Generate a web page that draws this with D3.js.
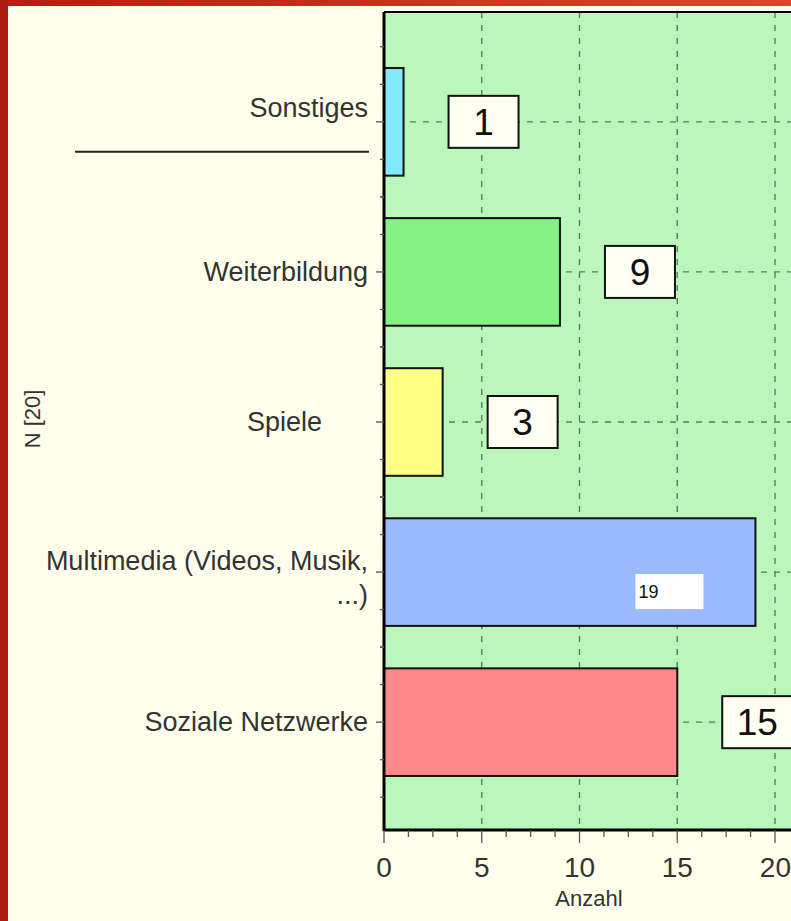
<!DOCTYPE html>
<html>
<head>
<meta charset="utf-8">
<script src="https://cdn.jsdelivr.net/npm/d3@7"></script>
<style>
html,body{margin:0;padding:0;background:#fffeec;overflow:hidden}
</style>
</head>
<body>
<div id="chart"></div>
<script>
const width = 791
const height = 921

const categories = ["Sonstiges","Weiterbildung","Spiele","Multimedia (Videos, Musik,","Soziale Netzwerke"]
const values = [1,9,3,19,15]
const colors = ["#80e9fa","#84f284","#ffff86","#9cbaff","#ff8888"]
const xTicks = [0,5,10,15,20,25]

const svg = d3.select("#chart")
.append("svg")
.attr("width",width)
.attr("height",height)
.style("font-family","'Liberation Sans', Arial, sans-serif")

const defs = svg.append("defs")
const grad = defs.append("linearGradient").attr("id","topred")
grad.append("stop").attr("offset","0%").attr("stop-color","#b41e10")
grad.append("stop").attr("offset","100%").attr("stop-color","#e4422a")

// frame
svg.append("rect").attr("width",width).attr("height",height).attr("fill","#fffeec")
svg.append("rect").attr("width",width).attr("height",6).attr("fill","url(#topred)")
svg.append("rect").attr("width",8).attr("height",height).attr("fill","#ad1d0f")

const plotTop = 12
const plotBottom = 830
const x = d3.scaleLinear().domain([0,25]).range([384,384+25*19.55])
const y = d3.scaleBand().domain(categories).range([14,830]).paddingInner(0.283).paddingOuter(0.36)
const cy = d => y(d)+y.bandwidth()/2

// plot background
svg.append("rect")
.attr("x",x(0)).attr("y",plotTop)
.attr("width",900-x(0)).attr("height",plotBottom-plotTop)
.attr("fill","#bbf7bb")

// grid
svg.selectAll(".vgrid").data(xTicks.slice(1)).enter().append("line")
.attr("x1",d=>x(d)).attr("x2",d=>x(d))
.attr("y1",plotTop).attr("y2",plotBottom)
.attr("stroke","#56805a").attr("stroke-width",1.4).attr("stroke-dasharray","6,7")

svg.selectAll(".hgrid").data(categories).enter().append("line")
.attr("x1",x(0)).attr("x2",900)
.attr("y1",d=>cy(d)).attr("y2",d=>cy(d))
.attr("stroke","#56805a").attr("stroke-width",1.4).attr("stroke-dasharray","6,7")

// bars
svg.selectAll(".bar").data(categories).enter().append("rect")
.attr("x",x(0))
.attr("y",d=>y(d))
.attr("width",(d,i)=>x(values[i])-x(0))
.attr("height",y.bandwidth())
.attr("fill",(d,i)=>colors[i])
.attr("stroke","#111").attr("stroke-width",2)

// value labels
categories.forEach((c,i)=>{
  const v = values[i]
  if(v>=19){
    svg.append("rect").attr("x",x(v)-120).attr("y",cy(c)+2).attr("width",68).attr("height",35).attr("fill","#fff")
    svg.append("text").attr("x",x(v)-117).attr("y",cy(c)+26).attr("font-size",18).attr("fill","#111").text(v)
  } else {
    svg.append("rect").attr("x",x(v)+45).attr("y",cy(c)-26).attr("width",70).attr("height",52)
    .attr("fill","#fffff2").attr("stroke","#111").attr("stroke-width",2)
    svg.append("text").attr("x",x(v)+80).attr("y",cy(c)+13).attr("text-anchor","middle")
    .attr("font-size",37).attr("fill","#111").text(v)
  }
})

// plot border
svg.append("line").attr("x1",x(0)).attr("x2",x(0)).attr("y1",plotTop).attr("y2",plotBottom+1).attr("stroke","#000").attr("stroke-width",3)
svg.append("line").attr("x1",x(0)).attr("x2",900).attr("y1",plotTop).attr("y2",plotTop).attr("stroke","#000").attr("stroke-width",2)
svg.append("line").attr("x1",x(0)-1).attr("x2",900).attr("y1",plotBottom).attr("y2",plotBottom).attr("stroke","#000").attr("stroke-width",3)

// x axis ticks
svg.selectAll(".xminor").data(d3.range(0,25.01,1.25)).enter().append("line")
.attr("x1",d=>x(d)).attr("x2",d=>x(d))
.attr("y1",plotBottom).attr("y2",d=>d%5===0?843:837)
.attr("stroke","#555").attr("stroke-width",1.3)

svg.selectAll(".xlab").data(xTicks.slice(0,4)).enter().append("text")
.attr("x",d=>x(d)).attr("y",877).attr("text-anchor","middle")
.attr("font-size",28).attr("fill","#333").text(d=>d)

// last visible tick label sits at the right edge, as in the picture
svg.append("text").attr("x",width).attr("y",877).attr("text-anchor","end")
.attr("font-size",28).attr("fill","#333").text(xTicks[4])

svg.append("text").attr("x",589).attr("y",906).attr("text-anchor","middle")
.attr("font-size",22).attr("fill","#333").text("Anzahl")

// y axis ticks
const yMinor = []
categories.forEach(c=>{ for(let k=-2;k<=2;k++) yMinor.push({c:c,k:k}) })
svg.selectAll(".yminor").data(yMinor).enter().append("line")
.attr("x1",d=>d.k===0?376:380).attr("x2",x(0))
.attr("y1",d=>cy(d.c)+d.k*y.step()/4).attr("y2",d=>cy(d.c)+d.k*y.step()/4)
.attr("stroke","#555").attr("stroke-width",1.3)

// category labels
const labelFont = 27
svg.selectAll(".ylab").data(categories).enter().append("text")
.attr("x",(d,i)=>i===2?322:368)
.attr("y",(d,i)=>i===0?cy(d)-5:i===3?cy(d)-2:cy(d)+9)
.attr("text-anchor","end")
.attr("font-size",labelFont).attr("fill","#333").text(d=>d)

svg.append("text").attr("x",368).attr("y",cy(categories[3])+32)
.attr("text-anchor","end").attr("font-size",labelFont).attr("fill","#333").text("...)")

svg.append("line").attr("x1",75).attr("x2",369)
.attr("y1",cy(categories[0])+30).attr("y2",cy(categories[0])+30)
.attr("stroke","#222").attr("stroke-width",2)

svg.append("text")
.attr("transform","translate(40,419) rotate(-90)")
.attr("text-anchor","middle").attr("font-size",22).attr("fill","#333")
.text("N [20]")
</script>
</body>
</html>
